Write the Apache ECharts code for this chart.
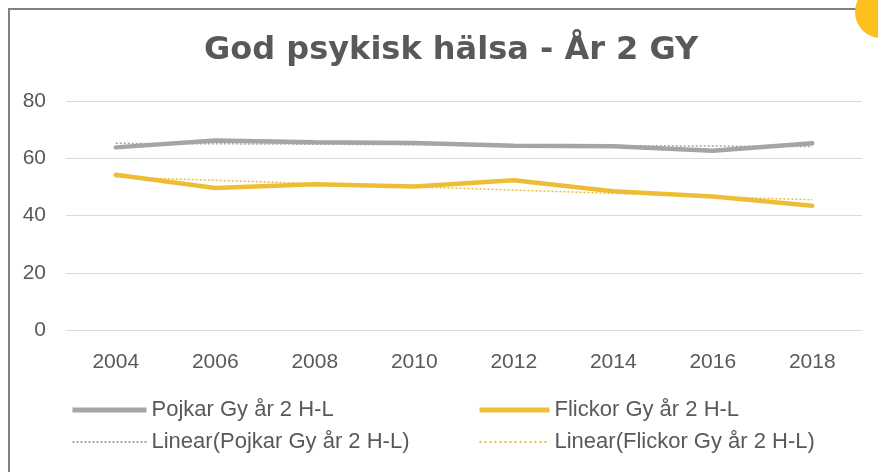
<!DOCTYPE html>
<html>
<head>
<meta charset="utf-8">
<script src="https://cdn.jsdelivr.net/npm/echarts@6/dist/echarts.min.js"></script>
<style>
html,body{margin:0;padding:0;background:#fff;}
#main{width:878px;height:472px;}
</style>
</head>
<body>
<div id="main"></div>
<script>
// data
var years = ['2004', '2006', '2008', '2010', '2012', '2014', '2016', '2018'];
var pojkar = [63.8, 66.2, 65.6, 65.3, 64.4, 64.2, 62.6, 65.2];
var flickor = [54.2, 49.6, 50.9, 50.1, 52.3, 48.5, 46.6, 43.4];
var yTicks = [0, 20, 40, 60, 80];

var namePojkar = 'Pojkar Gy år 2 H-L';
var nameFlickor = 'Flickor Gy år 2 H-L';

// Excel-style linear trendline (least squares over category index)
function linearTrend(vals) {
	var n = vals.length, sx = 0, sy = 0, sxy = 0, sxx = 0;
	for (var i = 0; i < n; i++) {
		sx += i; sy += vals[i]; sxy += i * vals[i]; sxx += i * i;
	}
	var b = (n * sxy - sx * sy) / (n * sxx - sx * sx);
	var a = (sy - b * sx) / n;
	var out = [];
	for (var j = 0; j < n; j++) out.push(+(a + b * j).toFixed(2));
	return out;
}

var grey = '#A5A5A5';
var gold = '#EDBE35';
var textColor = '#595959';
var font = 'Liberation Sans';

var myChart = echarts.init(document.getElementById('main'));
var legendText = { fontFamily: font, fontSize: 22, color: textColor };
var option = {
	animation: false,
	title: {
		text: 'God psykisk hälsa - År 2 GY',
		left: 199,
		top: 30,
		textStyle: { fontFamily: 'DejaVu Sans', fontWeight: 'bold', fontSize: 32, color: textColor }
	},
	graphic: [
		{ type: 'rect', shape: { x: 9, y: 9, width: 900, height: 500 }, style: { fill: 'none', stroke: '#808080', lineWidth: 2 }, z: -1 },
		{ type: 'circle', shape: { cx: 881, cy: 12, r: 26 }, style: { fill: '#FDBF1A' }, z: 10 }
	],
	legend: [{
		left: 65, top: 394, orient: 'vertical', itemGap: 10,
		itemWidth: 74, itemHeight: 24,
		itemStyle: { opacity: 0 },
		textStyle: legendText,
		data: [
			{ name: namePojkar, lineStyle: { width: 5, cap: 'butt' } },
			{ name: 'Linear(' + namePojkar + ')', lineStyle: { width: 2, type: [2, 2], cap: 'butt' } }
		]
	}, {
		left: 472, top: 394, orient: 'vertical', itemGap: 10,
		itemWidth: 70, itemHeight: 24,
		itemStyle: { opacity: 0 },
		textStyle: legendText,
		data: [
			{ name: nameFlickor, lineStyle: { width: 5, cap: 'butt' } },
			{ name: 'Linear(' + nameFlickor + ')', lineStyle: { width: 2, type: [2, 3], cap: 'butt' } }
		]
	}],
	grid: { left: 66, right: 16, top: 101, bottom: 142 },
	xAxis: {
		type: 'category',
		data: years,
		boundaryGap: true,
		axisLine: { lineStyle: { color: '#D9D9D9', width: 1 } },
		axisTick: { show: false },
		axisLabel: { fontFamily: font, fontSize: 21, color: textColor, margin: 22 }
	},
	yAxis: {
		type: 'value',
		min: yTicks[0], max: yTicks[yTicks.length - 1], interval: 20,
		axisLine: { show: false },
		axisTick: { show: false },
		axisLabel: { fontFamily: font, fontSize: 21, color: textColor, margin: 20 },
		splitLine: { lineStyle: { color: '#D9D9D9', width: 1 } }
	},
	series: [{
		name: namePojkar, type: 'line', data: pojkar, symbol: 'none',
		lineStyle: { color: grey, width: 4.5, cap: 'round' }, itemStyle: { color: grey }, z: 3
	}, {
		name: nameFlickor, type: 'line', data: flickor, symbol: 'none',
		lineStyle: { color: gold, width: 4.5, cap: 'round' }, itemStyle: { color: gold }, z: 3
	}, {
		name: 'Linear(' + namePojkar + ')', type: 'line', data: linearTrend(pojkar), symbol: 'none',
		lineStyle: { color: grey, width: 1.5, type: [2, 2] }, itemStyle: { color: grey }, z: 4
	}, {
		name: 'Linear(' + nameFlickor + ')', type: 'line', data: linearTrend(flickor), symbol: 'none',
		lineStyle: { color: gold, width: 1.5, type: [2, 2] }, itemStyle: { color: gold }, z: 4
	}]
};
myChart.setOption(option);
</script>
</body>
</html>
